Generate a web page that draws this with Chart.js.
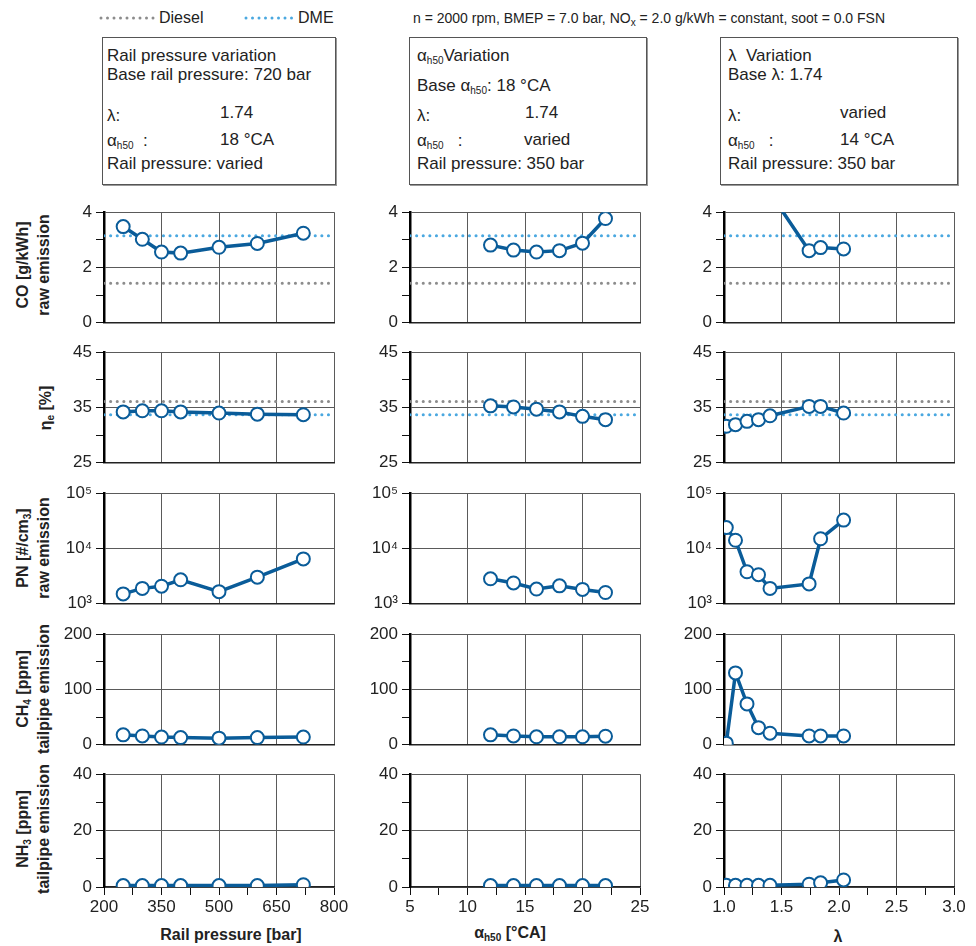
<!DOCTYPE html>
<html>
<head>
<meta charset="utf-8">
<script src="https://cdn.jsdelivr.net/npm/chart.js@4.4.1/dist/chart.umd.min.js"></script>
<style>
body{margin:0;width:976px;height:946px;position:relative;background:#fff;font-family:"Liberation Sans",Arial,sans-serif;color:#222;overflow:hidden}
canvas{position:absolute}
.box{position:absolute;top:37px;height:146px;border:1px solid #555;box-shadow:1px 1px 0 #999;background:#fff}
.t{position:absolute;font-size:17px;line-height:20px;white-space:nowrap}
.h{position:absolute;font-size:14px;line-height:18px;white-space:nowrap}
.lg{position:absolute;font-size:16px;line-height:18px;white-space:nowrap}
sub{font-size:10px;vertical-align:-3px;line-height:0}
.yt{position:absolute;font-weight:bold;font-size:16px;line-height:21px;white-space:nowrap;text-align:center;transform:translate(-50%,-50%) rotate(-90deg)}
.xt{position:absolute;font-weight:bold;font-size:16px;white-space:nowrap;transform:translate(-50%,-50%)}
</style>
</head>
<body>

<svg style="position:absolute;left:98px;top:12px" width="60" height="12"><line x1="3" y1="6" x2="56" y2="6" stroke="#8c8c8c" stroke-width="3" stroke-dasharray="0 6.5" stroke-linecap="round"/></svg>
<div class="lg" style="left:159px;top:9px">Diesel</div>
<svg style="position:absolute;left:243px;top:12px" width="60" height="12"><line x1="3" y1="6" x2="53" y2="6" stroke="#4aa8e0" stroke-width="3" stroke-dasharray="0 6.5" stroke-linecap="round"/></svg>
<div class="lg" style="left:298px;top:9px">DME</div>
<div class="h" style="left:413px;top:9px">n = 2000 rpm, BMEP = 7.0 bar, NO<sub>x</sub> = 2.0 g/kWh = constant, soot = 0.0 FSN</div>

<div class="box" style="left:102px;width:232px"></div>
<div class="box" style="left:409px;width:236px"></div>
<div class="box" style="left:720px;width:236px"></div>

<div class="t" style="left:107px;top:46px">Rail pressure variation</div>
<div class="t" style="left:107px;top:65px">Base rail pressure: 720 bar</div>
<div class="t" style="left:107px;top:106px">λ:</div>
<div class="t" style="left:220px;top:103px">1.74</div>
<div class="t" style="left:107px;top:131px">α<sub>h50</sub>&nbsp;&nbsp;:</div>
<div class="t" style="left:220px;top:130px">18 °CA</div>
<div class="t" style="left:107px;top:154px">Rail pressure: varied</div>

<div class="t" style="left:417px;top:46px">α<sub>h50</sub>Variation</div>
<div class="t" style="left:417px;top:76px">Base α<sub>h50</sub>: 18 °CA</div>
<div class="t" style="left:417px;top:106px">λ:</div>
<div class="t" style="left:525px;top:103px">1.74</div>
<div class="t" style="left:417px;top:131px">α<sub>h50</sub>&nbsp;&nbsp;&nbsp;:</div>
<div class="t" style="left:524px;top:130px">varied</div>
<div class="t" style="left:417px;top:154px">Rail pressure: 350 bar</div>

<div class="t" style="left:728px;top:46px">λ&nbsp;&nbsp;Variation</div>
<div class="t" style="left:728px;top:65px">Base λ: 1.74</div>
<div class="t" style="left:728px;top:106px">λ:</div>
<div class="t" style="left:840px;top:103px">varied</div>
<div class="t" style="left:728px;top:131px">α<sub>h50</sub>&nbsp;&nbsp;&nbsp;:</div>
<div class="t" style="left:840px;top:130px">14 °CA</div>
<div class="t" style="left:728px;top:154px">Rail pressure: 350 bar</div>

<div class="yt" style="left:33px;top:265px">CO [g/kWh]<br>raw emission</div>
<div class="yt" style="left:45px;top:408px">η<sub>e</sub> [%]</div>
<div class="yt" style="left:33px;top:548px">PN [#/cm<sub>3</sub>]<br>raw emission</div>
<div class="yt" style="left:33px;top:689px">CH<sub>4</sub> [ppm]<br>tailpipe emission</div>
<div class="yt" style="left:33px;top:829px">NH<sub>3</sub> [ppm]<br>tailpipe emission</div>

<div class="xt" style="left:231px;top:935px">Rail pressure [bar]</div>
<div class="xt" style="left:510px;top:933px">α<sub>h50</sub> [°CA]</div>
<div class="xt" style="left:838px;top:937px">λ</div>

<script>
// x values of the three variations
var railPressure = [250, 300, 350, 400, 500, 600, 720];
var alphaH50 = [12, 14, 16, 18, 20, 22];
var lambdaVals = [1.02, 1.1, 1.2, 1.3, 1.4, 1.74, 1.84, 2.04];

// CO raw emission [g/kWh]
var coRail = [3.48, 3.02, 2.56, 2.52, 2.73, 2.87, 3.24];
var coAh50 = [2.81, 2.63, 2.56, 2.61, 2.88, 3.77];
var coLambda = [9.0, 8.0, 6.5, 5.5, 4.7, 2.61, 2.72, 2.67];

// effective efficiency [%]
var etaRail = [34.2, 34.4, 34.4, 34.2, 34.0, 33.8, 33.7];
var etaAh50 = [35.3, 35.1, 34.7, 34.2, 33.4, 32.8];
var etaLambda = [31.6, 31.9, 32.5, 32.8, 33.5, 35.2, 35.2, 34.0];

// PN raw emission [#/cm3]
var pnRail = [1510, 1900, 2080, 2720, 1660, 3030, 6490];
var pnAh50 = [2830, 2380, 1850, 2110, 1820, 1600];
var pnLambda = [23900, 14100, 3800, 3360, 1900, 2290, 15000, 32600];

// CH4 tailpipe [ppm]
var ch4Rail = [18, 16, 14, 13, 12, 13, 14];
var ch4Ah50 = [18, 16, 14.5, 14.5, 14.5, 15.5];
var ch4Lambda = [3, 130, 74, 31, 21, 16, 16, 16];

// NH3 tailpipe [ppm]
var nh3Rail = [0.5, 0.5, 0.5, 0.5, 0.5, 0.5, 0.8];
var nh3Ah50 = [0.5, 0.5, 0.5, 0.5, 0.5, 0.5];
var nh3Lambda = [0.6, 0.6, 0.6, 0.6, 0.6, 1.0, 1.5, 2.5];

// diesel / DME reference levels
var dieselCO = 1.43, dmeCO = 3.15;
var dieselEta = 36.1, dmeEta = 33.7;

var blue = '#0a5c99';
var font = '"Liberation Sans", Arial, sans-serif';

var cols = [
  {x: railPressure, min: 200, max: 800, step: 75, major: 150, dec: 0, left: 104},
  {x: alphaH50, min: 5, max: 25, step: 2.5, major: 5, dec: 0, left: 410},
  {x: lambdaVals, min: 1, max: 3, step: 0.25, major: 0.5, dec: 1, left: 724}
];

var rows = [
  {ys: [coRail, coAh50, coLambda], min: 0, max: 4, step: 1, major: 2, top: 210, ref: [dieselCO, dmeCO]},
  {ys: [etaRail, etaAh50, etaLambda], min: 25, max: 45, step: 5, major: 10, top: 350, ref: [dieselEta, dmeEta]},
  {ys: [pnRail, pnAh50, pnLambda], min: 1000, max: 100000, log: true, top: 491},
  {ys: [ch4Rail, ch4Ah50, ch4Lambda], min: 0, max: 200, step: 50, major: 100, top: 632},
  {ys: [nh3Rail, nh3Ah50, nh3Lambda], min: 0, max: 40, step: 10, major: 20, top: 772}
];

var supers = {1000: '10³', 10000: '10⁴', 100000: '10⁵'};

function isMajor(v, min, major){
  var k = (v - min) / major;
  return Math.abs(k - Math.round(k)) < 1e-6;
}

function makeChart(row, col, bottom){
  var W = 60 + 230 + 18;
  var H = bottom ? 12 + 115 + 34 + 4 : 12 + 115 + 12;
  var cv = document.createElement('canvas');
  cv.width = W; cv.height = H;
  cv.style.left = (col.left - 60) + 'px';
  cv.style.top = (row.top - 12) + 'px';
  document.body.appendChild(cv);

  var ys = row.ys[cols.indexOf(col)];
  var datasets = [{
    data: col.x.map(function(x, i){ return {x: x, y: ys[i]}; }),
    borderColor: blue,
    borderWidth: 3.5,
    pointRadius: 6.5,
    pointBorderWidth: 2,
    pointBackgroundColor: '#fff',
    pointBorderColor: blue,
    clip: 0
  }];
  if(row.ref){
    var refColors = ['#8c8c8c', '#4aa8e0'];
    row.ref.forEach(function(v, i){
      datasets.push({
        data: [{x: col.min, y: v}, {x: col.max, y: v}],
        borderColor: refColors[i],
        borderWidth: 3,
        borderDash: [0.1, 6.5],
        borderCapStyle: 'round',
        pointRadius: 0,
        clip: 0
      });
    });
  }

  var yScale = {
    type: row.log ? 'logarithmic' : 'linear',
    min: row.min,
    max: row.max,
    afterFit: function(s){ s.width = 60; },
    ticks: {
      stepSize: row.step,
      autoSkip: false,
      padding: 4,
      color: '#222',
      font: {family: font, size: 17},
      callback: function(v){
        if(row.log) return supers[v] || '';
        return isMajor(v, row.min, row.major) ? v : '';
      }
    },
    grid: {
      color: function(ctx){
        if(!ctx.tick) return 'rgba(0,0,0,0)';
        if(row.log) return '#5a5a5a';
        return isMajor(ctx.tick.value, row.min, row.major) ? '#5a5a5a' : 'rgba(0,0,0,0)';
      },
      tickColor: '#111',
      tickLength: 8
    },
    border: {color: '#000', width: 2.5}
  };
  if(row.log){
    yScale.afterBuildTicks = function(s){
      s.ticks = [1000, 10000, 100000].map(function(v){ return {value: v}; });
    };
  }

  new Chart(cv, {
    type: 'line',
    data: {datasets: datasets},
    options: {
      responsive: false,
      animation: false,
      layout: {padding: {top: 12, right: 18, bottom: bottom ? 4 : 12, left: 0}},
      plugins: {legend: {display: false}, tooltip: {enabled: false}},
      scales: {
        x: {
          type: 'linear',
          min: col.min,
          max: col.max,
          afterFit: function(s){ s.height = bottom ? 34 : 0; },
          ticks: {
            display: bottom,
            stepSize: col.step,
            autoSkip: false,
            maxRotation: 0,
            padding: 2,
            color: '#222',
            font: {family: font, size: 17},
            callback: function(v){
              return isMajor(v, col.min, col.major) ? v.toFixed(col.dec) : '';
            }
          },
          grid: {
            color: function(ctx){
              if(!ctx.tick) return 'rgba(0,0,0,0)';
              return isMajor(ctx.tick.value, col.min, col.major) ? '#5a5a5a' : 'rgba(0,0,0,0)';
            },
            drawTicks: bottom,
            tickColor: '#111',
            tickLength: 8
          },
          border: {color: '#222', width: 1.5}
        },
        y: yScale
      }
    }
  });
}

rows.forEach(function(row, r){
  cols.forEach(function(col){
    makeChart(row, col, r === rows.length - 1);
  });
});
</script>
</body>
</html>
